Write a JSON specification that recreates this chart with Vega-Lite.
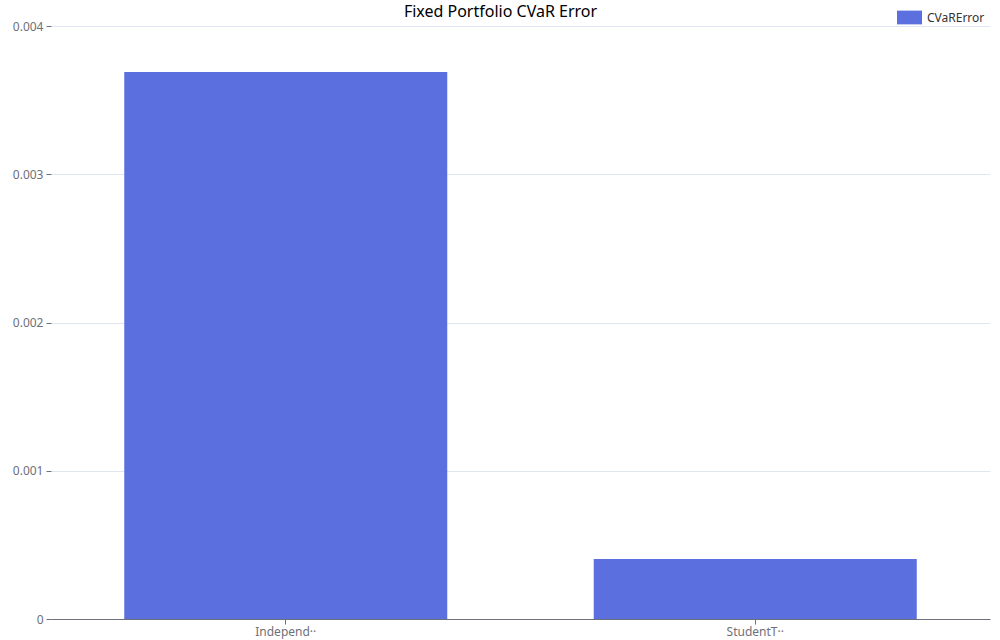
{
  "$schema": "https://vega.github.io/schema/vega-lite/v6.json",
  "autosize": "none",
  "width": 939,
  "height": 593,
  "padding": {"left": 51, "top": 26, "right": 10, "bottom": 21},
  "background": "white",
  "title": {
    "text": "Fixed Portfolio CVaR Error",
    "fontSize": 16,
    "fontWeight": "normal",
    "font": "Noto Sans",
    "color": "#000000",
    "anchor": "middle",
    "baseline": "top",
    "dx": -20,
    "offset": -15
  },
  "config": {
    "view": {"stroke": null},
    "font": "Noto Sans"
  },
  "data": {
    "values": [
      {"model": "Independ··", "CVaRError": 0.00369},
      {"model": "StudentT··", "CVaRError": 0.000405}
    ]
  },
  "mark": {"type": "bar"},
  "encoding": {
    "x": {
      "field": "model",
      "type": "nominal",
      "sort": null,
      "scale": {"paddingInner": 0.312, "paddingOuter": 0.156},
      "axis": {
        "title": null,
        "labelAngle": 0,
        "labelColor": "#6e7079",
        "labelFontSize": 12,
        "labelPadding": 2,
        "domainColor": "#6e7079",
        "tickColor": "#6e7079",
        "tickSize": 5,
        "grid": false
      }
    },
    "y": {
      "field": "CVaRError",
      "type": "quantitative",
      "scale": {"domain": [0, 0.004], "nice": false},
      "axis": {
        "title": null,
        "values": [0, 0.001, 0.002, 0.003, 0.004],
        "format": "~g",
        "domain": false,
        "labelColor": "#6e7079",
        "labelFontSize": 12,
        "tickColor": "#6e7079",
        "tickSize": 5,
        "labelPadding": 3,
        "gridColor": "#e0e6f1"
      }
    },
    "color": {
      "datum": "CVaRError",
      "scale": {"range": ["#5c6fde"]},
      "legend": {
        "title": null,
        "orient": "none",
        "legendX": 846,
        "legendY": -21,
        "symbolType": "M-1,-0.55L1,-0.55L1,0.55L-1,0.55Z",
        "symbolSize": 625,
        "symbolStrokeWidth": 0,
        "labelFontSize": 12,
        "labelColor": "#333333",
        "labelOffset": 5
      }
    }
  }
}
